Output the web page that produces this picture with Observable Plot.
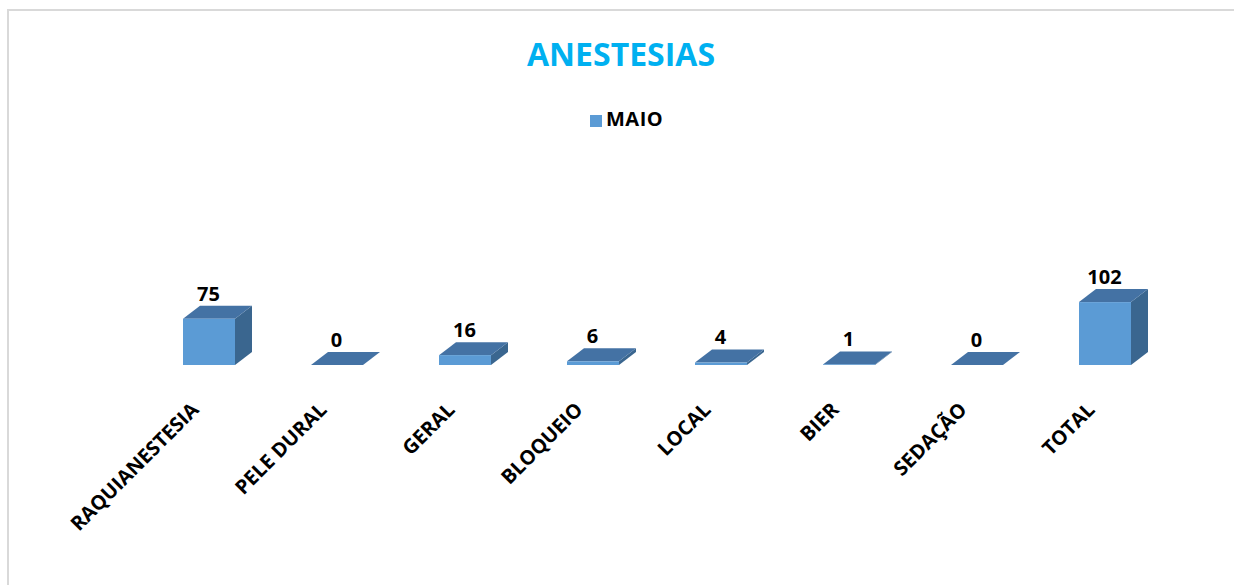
<!DOCTYPE html>
<html>
<head>
<meta charset="utf-8">
<script src="https://cdn.jsdelivr.net/npm/d3@7"></script>
<script src="https://cdn.jsdelivr.net/npm/@observablehq/plot@0.6"></script>
<style>
  html, body { margin: 0; padding: 0; background: #fff; overflow: hidden; }
  #wrap { position: relative; width: 1234px; height: 585px; overflow: hidden; font-family: 'Open Sans', sans-serif; }
  #frame { position: absolute; left: 7px; top: 9px; width: 1260px; height: 620px; border-top: 2px solid #d9d9d9; border-left: 2px solid #d9d9d9; }
  #title { position: absolute; left: 8px; top: 38px; width: 1226px; text-align: center; font-size: 32px; line-height: 32px; font-weight: 700; color: #00B0F0; }
  #legend { position: absolute; left: 590px; top: 109px; height: 20px; display: flex; align-items: center; font-size: 20px; line-height: 20px; font-weight: 700; color: #000; }
  #legend .sw { width: 12px; height: 12px; background: #5B9BD5; margin-right: 4px; margin-top: 4px; }
  #legend span { letter-spacing: 0.5px; }
  #chart { position: absolute; left: 0; top: 140px; }
</style>
</head>
<body>
<div id="wrap">
  <div id="frame"></div>
  <div id="title"></div>
  <div id="legend"><div class="sw"></div><span id="legname"></span></div>
  <div id="chart"></div>
</div>
<script>
const chartTitle = "ANESTESIAS";
const seriesName = "MAIO";
const categories = ["RAQUIANESTESIA", "PELE DURAL", "GERAL", "BLOQUEIO", "LOCAL", "BIER", "SEDAÇÃO", "TOTAL"];
const maio = [75, 0, 16, 6, 4, 1, 0, 102];

const frontColor = "#5B9BD5";
const topColor = "#4472A4";
const sideColor = "#3A668F";
const depthX = 17, depthY = 13;

document.getElementById("title").textContent = chartTitle;
document.getElementById("legname").textContent = seriesName;

const data = categories.map((c, i) => ({cat: c, value: maio[i]}));

function faces(rows) {
  return Plot.barY(rows, {
    x: "cat", y: "value", fill: "none",
    render(index, scales, values, dimensions, context) {
      const {x, y} = scales;
      const bw = typeof x.bandwidth === "function" ? x.bandwidth() : x.bandwidth;
      const g = d3.select(context.document.createElementNS("http://www.w3.org/2000/svg", "g"));
      for (const i of index) {
        const d = rows[i];
        const x1 = x(d.cat), x2 = x1 + bw;
        const y0 = y(0), yv = y(d.value);
        g.append("polygon")
          .attr("fill", sideColor)
          .attr("points", [[x2, y0], [x2, yv], [x2 + depthX, yv - depthY], [x2 + depthX, y0 - depthY]].map(p => p.join(",")).join(" "));
        g.append("polygon")
          .attr("fill", topColor)
          .attr("points", [[x1, yv], [x2, yv], [x2 + depthX, yv - depthY], [x1 + depthX, yv - depthY]].map(p => p.join(",")).join(" "));
      }
      return g.node();
    }
  });
}

const plot = Plot.plot({
  width: 1234,
  height: 445,
  marginLeft: 143,
  marginRight: 64,
  marginTop: 151,
  marginBottom: 220,
  style: {fontFamily: "'Open Sans', sans-serif", background: "transparent"},
  x: {domain: categories, paddingInner: 0.595, paddingOuter: 0.2975, axis: null},
  y: {domain: [0, 120], axis: null},
  marks: [
    faces(data),
    Plot.barY(data, {x: "cat", y: "value", fill: frontColor}),
    Plot.text(data, {x: "cat", y: "value", text: d => String(d.value), dy: -25, dx: -1, fontSize: 20, fontWeight: "bold", fill: "#000"}),
    Plot.text(data, {x: "cat", frameAnchor: "bottom", text: "cat", rotate: -45, textAnchor: "end", lineAnchor: "middle", dx: -14, dy: 41, fontSize: 20, fontWeight: "bold", fill: "#000"})
  ]
});
document.getElementById("chart").appendChild(plot);
</script>
</body>
</html>
